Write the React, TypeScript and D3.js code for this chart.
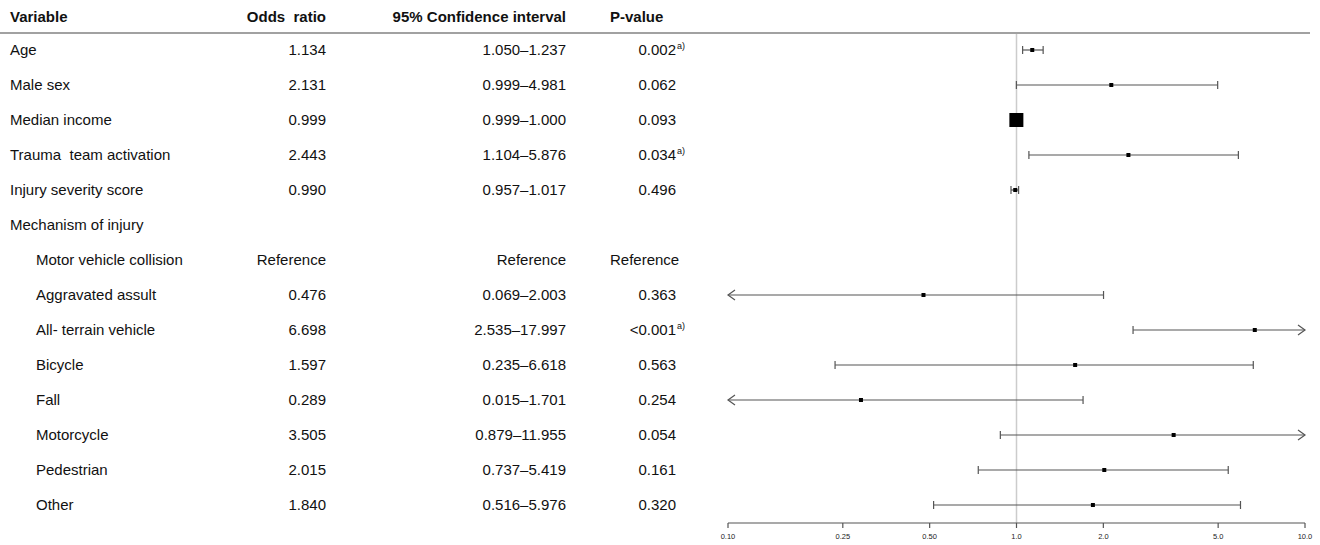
import * as d3 from 'd3';

const labels = ['Age', 'Male sex', 'Median income', 'Trauma\u00a0 team activation', 'Injury severity score', 'Mechanism of injury',
  'Motor vehicle collision', 'Aggravated assult', 'All- terrain vehicle', 'Bicycle', 'Fall', 'Motorcycle', 'Pedestrian', 'Other'];
const indent = [0, 0, 0, 0, 0, 0, 1, 1, 1, 1, 1, 1, 1, 1];
const orText = ['1.134', '2.131', '0.999', '2.443', '0.990', '', 'Reference', '0.476', '6.698', '1.597', '0.289', '3.505', '2.015', '1.840'];
const ciText = ['1.050–1.237', '0.999–4.981', '0.999–1.000', '1.104–5.876', '0.957–1.017', '', 'Reference', '0.069–2.003', '2.535–17.997', '0.235–6.618', '0.015–1.701', '0.879–11.955', '0.737–5.419', '0.516–5.976'];
const pText = ['0.002', '0.062', '0.093', '0.034', '0.496', '', 'Reference', '0.363', '<0.001', '0.563', '0.254', '0.054', '0.161', '0.320'];
const pSig = [true, false, false, true, false, false, false, false, true, false, false, false, false, false];
const or = [1.134, 2.131, 0.999, 2.443, 0.99, null, null, 0.476, 6.698, 1.597, 0.289, 3.505, 2.015, 1.84];
const lo = [1.05, 0.999, 0.999, 1.104, 0.957, null, null, 0.069, 2.535, 0.235, 0.015, 0.879, 0.737, 0.516];
const hi = [1.237, 4.981, 1.0, 5.876, 1.017, null, null, 2.003, 17.997, 6.618, 1.701, 11.955, 5.419, 5.976];
const boxSize = [4, 4, 14, 4, 4, 0, 0, 4, 4, 4, 4, 4, 4, 4];
const ticks = [0.1, 0.25, 0.5, 1.0, 2.0, 5.0, 10.0];
const tickLabels = ['0.10', '0.25', '0.50', '1.0', '2.0', '5.0', '10.0'];

export default function App() {
  const W = 1320, H = 545;
  const x = d3.scaleLog().domain([0.1, 10]).range([728, 1305]);
  const y = d3.scaleLinear().domain([0, 13]).range([50, 505]);
  const font = 'Liberation Sans, Arial, sans-serif';
  const gray = '#555';
  return (
    <svg width={W} height={H} style={{ position: 'absolute', left: 0, top: 0 }} fontFamily={font} fontSize={15}>
      <rect width={W} height={H} fill="#fff" />
      <g fontWeight="bold" fill="#111">
        <text x={10} y={22}>Variable</text>
        <text x={326} y={22} textAnchor="end">Odds{'\u00a0 '}ratio</text>
        <text x={566} y={22} textAnchor="end">95% Confidence interval</text>
        <text x={610} y={22}>P-value</text>
      </g>
      <line x1={0} x2={1310} y1={33} y2={33} stroke="#444" strokeWidth={1.2} />
      <line x1={x(1)} x2={x(1)} y1={34} y2={523} stroke="#ccc" strokeWidth={1.5} />
      {labels.map((l, i) => (
        <g key={i} fill="#111">
          <text x={10 + indent[i] * 26} y={y(i) + 5}>{l}</text>
          <text x={326} y={y(i) + 5} textAnchor="end">{orText[i]}</text>
          <text x={566} y={y(i) + 5} textAnchor="end">{ciText[i]}</text>
          {pText[i] === 'Reference'
            ? <text x={610} y={y(i) + 5}>{pText[i]}</text>
            : <text x={676} y={y(i) + 5} textAnchor="end">{pText[i]}</text>}
          {pSig[i] && <text x={677} y={y(i) - 1} fontSize={9}>a)</text>}
        </g>
      ))}
      {or.map((v, i) => {
        if (v === null) return null;
        const l = lo[i]!, h = hi[i]!;
        const x1 = x(Math.max(l, 0.1)), x2 = x(Math.min(h, 10));
        const cy = y(i);
        const s = boxSize[i];
        return (
          <g key={i} stroke={gray} strokeWidth={1.2} fill="none">
            <line x1={x1} x2={x2} y1={cy} y2={cy} />
            {l >= 0.1 ? <line x1={x1} x2={x1} y1={cy - 4} y2={cy + 4} />
              : <path d={`M${x1 + 7},${cy - 5}L${x1},${cy}L${x1 + 7},${cy + 5}`} />}
            {h <= 10 ? <line x1={x2} x2={x2} y1={cy - 4} y2={cy + 4} />
              : <path d={`M${x2 - 7},${cy - 5}L${x2},${cy}L${x2 - 7},${cy + 5}`} />}
            <rect x={x(v) - s / 2} y={cy - s / 2} width={s} height={s} fill="#000" stroke="none" />
          </g>
        );
      })}
      <line x1={x(0.1)} x2={x(10)} y1={523} y2={523} stroke={gray} strokeWidth={1.2} />
      {ticks.map((t, i) => (
        <g key={i}>
          <line x1={x(t)} x2={x(t)} y1={523} y2={528} stroke={gray} strokeWidth={1.2} />
          <text x={x(t)} y={539} textAnchor="middle" fontSize={7.5} fill="#222">{tickLabels[i]}</text>
        </g>
      ))}
    </svg>
  );
}
